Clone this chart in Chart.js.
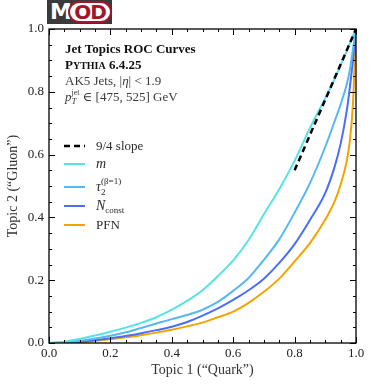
<!DOCTYPE html>
<html>
<head>
<meta charset="utf-8">
<script src="https://cdn.jsdelivr.net/npm/chart.js@4.4.0/dist/chart.umd.min.js"></script>
<style>
  body { margin: 0; background: #fff; }
  #wrap { position: relative; width: 374px; height: 388px; }
  #grafico { position: absolute; left: 0; top: 0; }
  #logo { position: absolute; left: 47px; top: 0px; width: 65px; height: 24px; background: #3a3a3a; }
  #logo .m { position: absolute; left: 3px; top: 0; color: #fff; font: bold 22px 'DejaVu Sans'; line-height: 24px; }
  #logo .od { position: absolute; left: 21px; top: 1px; width: 40px; height: 18px; border: 2px solid #a3162a; border-radius: 11px;
              background: #fff; color: #a3162a; font: bold 20px 'DejaVu Sans'; line-height: 19px; text-align: center; letter-spacing: -1px; }
</style>
</head>
<body>
<div id="wrap">
  <canvas id="grafico" width="374" height="388"></canvas>
  <div id="logo"><span class="m">M</span><span class="od">OD</span></div>
</div>
<script>
// ROC curves: Topic 1 ("Quark") efficiency vs Topic 2 ("Gluon") efficiency
const rocX    = [0, 0.05, 0.1, 0.15, 0.2, 0.25, 0.3, 0.35, 0.4, 0.45, 0.5, 0.55, 0.6, 0.65, 0.7, 0.75, 0.8, 0.85, 0.9, 0.93, 0.95, 0.97, 0.98, 0.99, 1.0];
const massY   = [0, 0.004, 0.013, 0.024, 0.036, 0.049, 0.064, 0.082, 0.106, 0.134, 0.168, 0.213, 0.263, 0.328, 0.410, 0.490, 0.580, 0.685, 0.780, 0.840, 0.885, 0.930, 0.955, 0.978, 1.0];
const tau21Y  = [0, 0.002, 0.007, 0.014, 0.023, 0.034, 0.048, 0.062, 0.076, 0.089, 0.106, 0.131, 0.166, 0.207, 0.265, 0.330, 0.415, 0.509, 0.625, 0.705, 0.760, 0.825, 0.870, 0.935, 1.0];
const nconstY = [0, 0.001, 0.004, 0.009, 0.015, 0.022, 0.031, 0.041, 0.052, 0.067, 0.087, 0.110, 0.137, 0.168, 0.205, 0.255, 0.315, 0.392, 0.478, 0.560, 0.635, 0.740, 0.815, 0.900, 1.0];
const pfnY    = [0, 0.001, 0.003, 0.007, 0.012, 0.018, 0.025, 0.033, 0.042, 0.053, 0.065, 0.082, 0.100, 0.128, 0.163, 0.205, 0.260, 0.318, 0.393, 0.450, 0.505, 0.580, 0.645, 0.760, 1.0];
const slopeX  = [0.8, 1.0];
const slopeY  = [0.55, 1.0];
const tickValues = [0, 0.2, 0.4, 0.6, 0.8, 1.0];

const serif = "'Liberation Serif', 'DejaVu Serif', serif";

function pontos(xs, ys) {
    return xs.map((x, i) => ({ x: x, y: ys[i] }));
}

// desenha texto com partes (sub/sobrescritos)
function textoRico(ctx, x, y, partes) {
    let cx = x;
    let xBase = x;
    partes.forEach(p => {
        ctx.font = p.f;
        if (p.stack) cx = xBase;
        ctx.fillText(p.t, cx, y + (p.dy || 0));
        const w = ctx.measureText(p.t).width;
        if (!p.sub) xBase = cx + w;
        cx += w;
    });
}

const molduraPlugin = {
    id: 'moldura',
    afterDraw(chart) {
        const ctx = chart.ctx;
        const a = chart.chartArea;
        const sx = chart.scales.x, sy = chart.scales.y;
        ctx.save();
        ctx.strokeStyle = '#000';
        ctx.lineWidth = 1;
        for (let i = 0; i <= 20; i++) {
            const v = i * 0.05;
            const len = (i % 4 === 0) ? 6 : 3;
            const px = Math.round(sx.getPixelForValue(v)) + 0.5;
            const py = Math.round(sy.getPixelForValue(v)) + 0.5;
            ctx.beginPath();
            ctx.moveTo(px, a.bottom); ctx.lineTo(px, a.bottom - len);
            ctx.moveTo(px, a.top); ctx.lineTo(px, a.top + len);
            ctx.moveTo(a.left, py); ctx.lineTo(a.left + len, py);
            ctx.moveTo(a.right, py); ctx.lineTo(a.right - len, py);
            ctx.stroke();
        }
        ctx.lineWidth = 1.3;
        ctx.strokeRect(a.left, a.top, a.right - a.left, a.bottom - a.top);

        // bloco de texto
        ctx.fillStyle = '#111';
        ctx.textBaseline = 'alphabetic';
        const tx = a.left + 16;
        textoRico(ctx, tx, 53, [{ t: 'Jet Topics ROC Curves', f: 'bold 13px ' + serif }]);
        textoRico(ctx, tx, 69, [
            { t: 'P', f: 'bold 13px ' + serif },
            { t: 'YTHIA', f: 'bold 10px ' + serif },
            { t: ' 6.4.25', f: 'bold 13px ' + serif }
        ]);
        ctx.fillStyle = '#3a3a3a';
        textoRico(ctx, tx, 85, [
            { t: 'AK5 Jets, |', f: '13px ' + serif },
            { t: 'η', f: 'italic 13px ' + serif },
            { t: '| < 1.9', f: '13px ' + serif }
        ]);
        textoRico(ctx, tx, 101, [
            { t: 'p', f: 'italic 13px ' + serif },
            { t: 'T', f: 'italic 9px ' + serif, dy: 3, sub: true },
            { t: 'jet', f: '8px ' + serif, dy: -6, stack: true },
            { t: ' ∈ [475, 525] GeV', f: '13px ' + serif }
        ]);

        // legenda
        const ds = chart.data.datasets;
        const lx0 = a.left + 15, lx1 = a.left + 36, tx2 = a.left + 47;
        const linhas = [146, 164, 187, 206, 225];
        const rotulos = [
            [{ t: '9/4 slope', f: '13px ' + serif }],
            [{ t: 'm', f: 'italic 14px ' + serif }],
            [{ t: 'τ', f: 'italic 14px ' + serif },
             { t: '2', f: '9px ' + serif, dy: 4, sub: true },
             { t: '(β=1)', f: '9px ' + serif, dy: -7, stack: true }],
            [{ t: 'N', f: 'italic 14px ' + serif },
             { t: 'const', f: '9px ' + serif, dy: 3 }],
            [{ t: 'PFN', f: '13px ' + serif }]
        ];
        ds.forEach((d, i) => {
            const y = linhas[i];
            ctx.strokeStyle = d.borderColor;
            ctx.lineWidth = d.borderWidth;
            ctx.setLineDash(d.borderDash || []);
            ctx.beginPath();
            ctx.moveTo(lx0, y); ctx.lineTo(lx1, y);
            ctx.stroke();
            ctx.setLineDash([]);
            ctx.fillStyle = '#2a2a2a';
            textoRico(ctx, tx2, y + 4, rotulos[i]);
        });
        ctx.restore();
    }
};

const ctx = document.getElementById('grafico').getContext('2d');
new Chart(ctx, {
    type: 'line',
    data: {
        datasets: [
            { label: '9/4 slope', data: pontos(slopeX, slopeY), borderColor: '#000', borderWidth: 2.5, borderDash: [6, 4] },
            { label: 'm', data: pontos(rocX, massY), borderColor: '#55e3e8', borderWidth: 2 },
            { label: 'tau21', data: pontos(rocX, tau21Y), borderColor: '#55b9f0', borderWidth: 2 },
            { label: 'Nconst', data: pontos(rocX, nconstY), borderColor: '#4a6ef8', borderWidth: 2 },
            { label: 'PFN', data: pontos(rocX, pfnY), borderColor: '#f4a300', borderWidth: 2 }
        ]
    },
    options: {
        responsive: false,
        animation: false,
        devicePixelRatio: 1,
        elements: { point: { radius: 0 }, line: { cubicInterpolationMode: 'monotone', fill: false } },
        layout: { padding: { top: 29, right: 18, left: 0, bottom: 0 } },
        plugins: { legend: { display: false }, tooltip: { enabled: false } },
        scales: {
            x: {
                type: 'linear', min: 0, max: 1,
                afterFit: s => { s.height = 45; },
                afterBuildTicks: s => { s.ticks = tickValues.map(v => ({ value: v })); },
                grid: { display: false, drawTicks: false },
                border: { display: false },
                ticks: { padding: 3, color: '#222', font: { family: serif, size: 13 }, callback: v => v.toFixed(1), maxRotation: 0 },
                title: { display: true, text: 'Topic 1 (“Quark”)', color: '#333', font: { family: serif, size: 14 }, padding: { top: 0, bottom: 9 } }
            },
            y: {
                type: 'linear', min: 0, max: 1,
                afterFit: s => { s.width = 49; },
                afterBuildTicks: s => { s.ticks = tickValues.map(v => ({ value: v })); },
                grid: { display: false, drawTicks: false },
                border: { display: false },
                ticks: { padding: 5, color: '#222', font: { family: serif, size: 13 }, callback: v => v.toFixed(1) },
                title: { display: true, text: 'Topic 2 (“Gluon”)', color: '#333', font: { family: serif, size: 14 }, padding: { top: 5, bottom: 0 } }
            }
        }
    },
    plugins: [molduraPlugin]
});
</script>
</body>
</html>
